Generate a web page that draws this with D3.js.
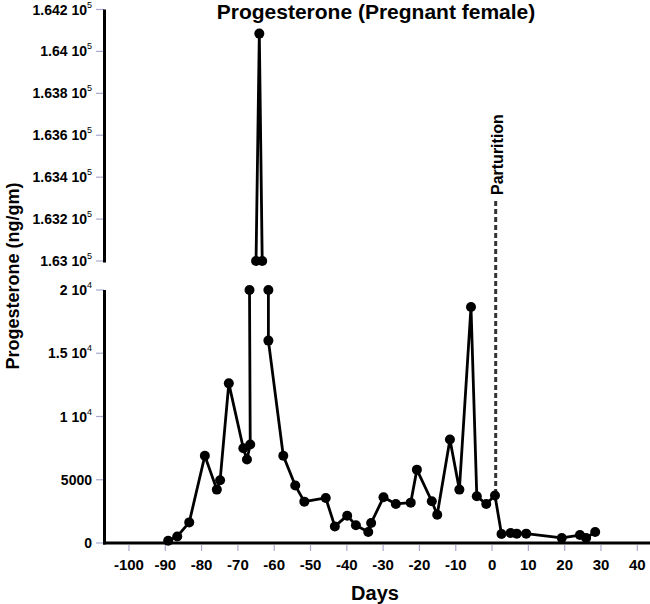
<!DOCTYPE html>
<html lang="en">
<head>
<meta charset="utf-8">
<title>Progesterone (Pregnant female)</title>
<script src="https://cdn.jsdelivr.net/npm/d3@7"></script>
<style>
  body { margin: 0; background: #fff; }
  text { font-family: Arial, "Liberation Sans", sans-serif; font-weight: bold; fill: #000; }
</style>
</head>
<body>
<div id="chart"></div>
<script>

// data (days relative to parturition, ng/gm)
var days = [-89.2, -86.7, -83.4, -79.1, -75.8, -74.9, -72.5, -68.5, -67.5, -66.6,
            -66.8, -65.0, -64.1, -63.3, -61.6, -61.6, -57.5, -54.2, -51.7, -45.8,
            -43.3, -39.9, -37.5, -34.1, -33.3, -29.9, -26.5, -22.4, -20.7, -16.6,
            -15.1, -11.6, -9.0, -5.8, -4.2, -1.6, 0.8, 2.6, 5.1, 6.8,
            9.4, 19.2, 24.2, 25.9, 28.4];
var values = [180, 520, 1630, 6900, 4220, 4960, 12620, 7490, 6600, 7790,
              20000, 163000, 164085, 163000, 20000, 16000, 6900, 4540, 3270, 3560,
              1310, 2160, 1400, 870, 1580, 3610, 3090, 3190, 5800, 3300,
              2240, 8180, 4220, 18660, 3690, 3090, 3750, 710, 790, 740,
              740, 400, 630, 400, 870];

var xTicks = [-100, -90, -80, -70, -60, -50, -40, -30, -20, -10, 0, 10, 20, 30, 40];
var lowTicks = [0, 5000, 10000, 15000, 20000];
var lowLabels = [["0", ""], ["5000", ""], ["1", "4"], ["1.5", "4"], ["2", "4"]];
var highTicks = [163000, 163200, 163400, 163600, 163800, 164000, 164200];
var highLabels = [["1.63", "5"], ["1.632", "5"], ["1.634", "5"], ["1.636", "5"], ["1.638", "5"], ["1.64", "5"], ["1.642", "5"]];
var partDay = 1;

var w = 650, h = 604;
var svg = d3.select("#chart").append("svg").attr("width", w).attr("height", h);

var x = d3.scaleLinear().domain([-106.6, 43.5]).range([105, 650]);
var yLow = d3.scaleLinear().domain([0, 20000]).range([543, 290]);
var yHigh = d3.scaleLinear().domain([163000, 164200]).range([261, 9.5]);

var tickCol = "#a9a9cf";

// y axis ticks + labels
function yTicks(scale, ticks, labels) {
  var g = svg.append("g");
  ticks.forEach(function(t, i) {
    var yy = scale(t);
    g.append("line").attr("x1", 96).attr("x2", 104).attr("y1", yy).attr("y2", yy)
      .attr("stroke", tickCol).attr("stroke-width", 1.2);
    var txt = g.append("text").attr("x", 92).attr("y", yy + 5)
      .attr("text-anchor", "end").style("font-size", "14px");
    txt.append("tspan").text(labels[i][0] + (labels[i][1] ? " 10" : ""));
    if (labels[i][1]) {
      txt.append("tspan").text(labels[i][1]).attr("dy", -7).style("font-size", "9px").style("font-weight", "normal");
    }
  });
  var r = scale.range();
  g.append("line").attr("x1", 104.5).attr("x2", 104.5).attr("y1", r[0] + 1.5).attr("y2", r[1])
    .attr("stroke", "#000").attr("stroke-width", 3);
}
yTicks(yLow, lowTicks, lowLabels);
yTicks(yHigh, highTicks, highLabels);

// x axis
var xg = svg.append("g");
xTicks.forEach(function(t) {
  xg.append("line").attr("x1", x(t)).attr("x2", x(t)).attr("y1", 545).attr("y2", 551)
    .attr("stroke", tickCol).attr("stroke-width", 1.2);
  xg.append("text").attr("x", x(t)).attr("y", 570).attr("text-anchor", "middle")
    .style("font-size", "15px").text(t);
});
xg.append("line").attr("x1", 103).attr("x2", 650).attr("y1", yLow(0)).attr("y2", yLow(0))
  .attr("stroke", "#000").attr("stroke-width", 3);

// parturition marker
var pIdx = days.indexOf(0.8);
svg.append("line").attr("x1", x(partDay)).attr("x2", x(partDay))
  .attr("y1", 201).attr("y2", yLow(values[pIdx]))
  .attr("stroke", "#333").attr("stroke-width", 3).attr("stroke-dasharray", "5,3");
svg.append("text").attr("transform", "translate(" + (x(partDay) + 7) + ",195) rotate(-90)")
  .style("font-size", "16px").text("Parturition");

// series: split into runs on either side of the axis break
var pts = days.map(function(d, i) {
  var hi = values[i] >= yHigh.domain()[0];
  return { x: x(d), y: hi ? yHigh(values[i]) : yLow(values[i]), hi: hi };
});
var runs = [];
pts.forEach(function(p, i) {
  if (i === 0 || p.hi !== pts[i - 1].hi) runs.push([]);
  runs[runs.length - 1].push(p);
});
var line = d3.line().x(function(d) { return d.x; }).y(function(d) { return d.y; });
svg.append("g").selectAll("path").data(runs).enter().append("path")
  .attr("d", line).attr("fill", "none").attr("stroke", "#000")
  .attr("stroke-width", 2.8).attr("stroke-linejoin", "round");
svg.append("g").selectAll("circle").data(pts).enter().append("circle")
  .attr("cx", function(d) { return d.x; }).attr("cy", function(d) { return d.y; })
  .attr("r", 5).attr("fill", "#000");

// titles
svg.append("text").attr("x", 376).attr("y", 19).attr("text-anchor", "middle")
  .style("font-size", "21px").text("Progesterone (Pregnant female)");
svg.append("text").attr("x", 375).attr("y", 600).attr("text-anchor", "middle")
  .style("font-size", "20px").text("Days");
svg.append("text").attr("transform", "translate(19,276) rotate(-90)").attr("text-anchor", "middle")
  .style("font-size", "18px").text("Progesterone (ng/gm)");

</script>
</body>
</html>
